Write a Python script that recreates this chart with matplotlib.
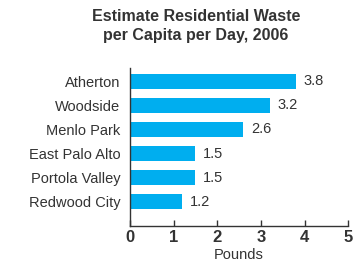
import matplotlib
matplotlib.use("Agg")
import matplotlib.pyplot as plt
from matplotlib import font_manager

names = {f.name for f in font_manager.fontManager.ttflist}
fam = "Liberation Sans Narrow" if "Liberation Sans Narrow" in names else "Liberation Sans"
plt.rcParams['font.family'] = [fam, 'DejaVu Sans']

cities = ["Redwood City", "Portola Valley", "East Palo Alto", "Menlo Park", "Woodside", "Atherton"]
values = [1.2, 1.5, 1.5, 2.6, 3.2, 3.8]
xticks = [0, 1, 2, 3, 4, 5]
title = "Estimate Residential Waste\nper Capita per Day, 2006"
xlabel = "Pounds"

bar_color = "#00AEEF"
text_color = "#333333"

fig = plt.figure(figsize=(3.56, 2.63), dpi=100)
ax = fig.add_axes([0.365, 0.141, 0.613, 0.60])
y = list(range(len(cities)))
ax.barh(y, values, height=0.62, color=bar_color)
for yi, v in zip(y, values):
    ax.text(v + 0.18, yi, f"{v:.1f}", va="center", ha="left", fontsize=10.5, color=text_color)

ax.set_xlim(0, 5)
ax.set_ylim(-1.0, 5.54)
ax.set_yticks(y)
ax.set_yticklabels(cities, fontsize=10.5, color=text_color)
ax.tick_params(axis="y", length=0, pad=7)
ax.set_xticks(xticks)
ax.set_xticklabels([str(t) for t in xticks], fontsize=12, fontweight="bold", color=text_color)
ax.tick_params(axis="x", direction="in", length=4, width=1, colors=text_color, pad=3)
for s in ["top", "right"]:
    ax.spines[s].set_visible(False)
for s in ["left", "bottom"]:
    ax.spines[s].set_color(text_color)
    ax.spines[s].set_linewidth(1)
ax.set_xlabel(xlabel, fontsize=10.5, color=text_color, labelpad=2)
fig.text(0.551, 0.965, title, ha="center", va="top", fontsize=11.5, fontweight="bold",
         color=text_color, linespacing=1.35)
fig.savefig("out.png", dpi=100)
